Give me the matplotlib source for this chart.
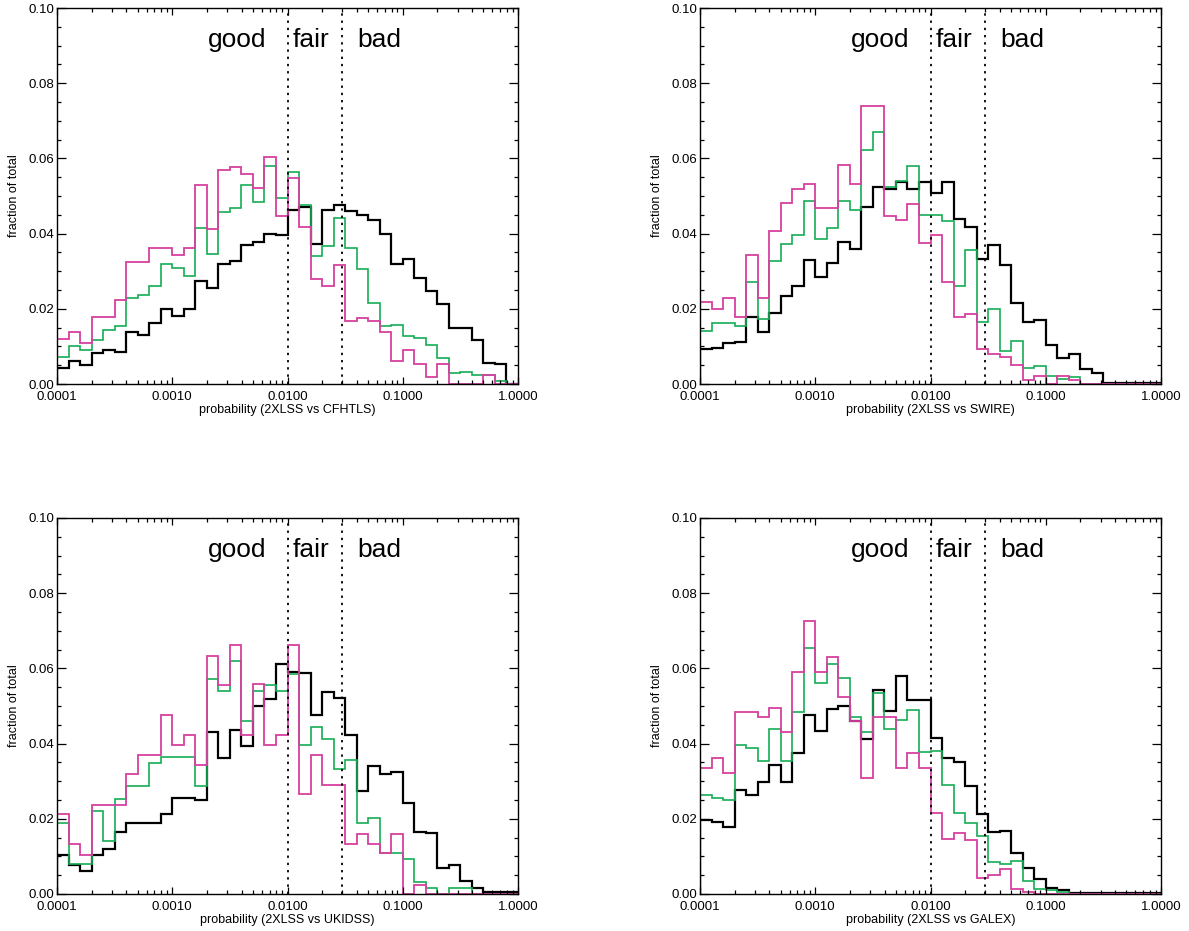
import numpy as np
import matplotlib
matplotlib.use("Agg")
import matplotlib.pyplot as plt
from matplotlib.ticker import FixedLocator, FixedFormatter, MultipleLocator

plt.rcParams['font.family'] = ['Liberation Sans', 'DejaVu Sans']

# 40 logarithmic bins, 10 per decade, from 1e-4 to 1
bin_edges = 10.0 ** (-4 + 0.1 * np.arange(41))

surveys = ["CFHTLS", "SWIRE", "UKIDSS", "GALEX"]

# ---- CFHTLS ----
cfhtls_black = [0.0042, 0.0062, 0.0051, 0.0082, 0.0091, 0.0084, 0.0139, 0.0131, 0.0161, 0.0200,
                0.0181, 0.0199, 0.0274, 0.0256, 0.0318, 0.0328, 0.0371, 0.0378, 0.0400, 0.0396,
                0.0464, 0.0471, 0.0373, 0.0462, 0.0477, 0.0460, 0.0450, 0.0435, 0.0398, 0.0319,
                0.0332, 0.0281, 0.0248, 0.0213, 0.0150, 0.0148, 0.0117, 0.0056, 0.0053, 0.0]
cfhtls_green = [0.0073, 0.0100, 0.0090, 0.0117, 0.0143, 0.0155, 0.0228, 0.0238, 0.0260, 0.0320,
                0.0309, 0.0287, 0.0415, 0.0346, 0.0458, 0.0468, 0.0528, 0.0485, 0.0581, 0.0495,
                0.0565, 0.0475, 0.0340, 0.0366, 0.0442, 0.0362, 0.0305, 0.0216, 0.0154, 0.0158,
                0.0127, 0.0122, 0.0104, 0.0069, 0.0029, 0.0033, 0.0024, 0.0024, 0.0007, 0.0]
cfhtls_magenta = [0.0119, 0.0139, 0.0110, 0.0177, 0.0177, 0.0223, 0.0325, 0.0325, 0.0362, 0.0362,
                  0.0344, 0.0362, 0.0530, 0.0411, 0.0568, 0.0576, 0.0559, 0.0521, 0.0605, 0.0446,
                  0.0547, 0.0418, 0.0278, 0.0260, 0.0316, 0.0168, 0.0175, 0.0168, 0.0138, 0.0062,
                  0.0091, 0.0053, 0.0018, 0.0053, 0.0, 0.0, 0.0, 0.0024, 0.0, 0.0]

# ---- SWIRE ----
swire_black = [0.0094, 0.0097, 0.0110, 0.0112, 0.0179, 0.0137, 0.0190, 0.0234, 0.0260, 0.0329,
               0.0284, 0.0322, 0.0377, 0.0359, 0.0470, 0.0525, 0.0518, 0.0538, 0.0518, 0.0538,
               0.0508, 0.0536, 0.0439, 0.0417, 0.0333, 0.0371, 0.0316, 0.0216, 0.0165, 0.0169,
               0.0104, 0.0070, 0.0081, 0.0041, 0.0029, 0.0003, 0.0002, 0.0002, 0.0002, 0.0002]
swire_green = [0.0141, 0.0161, 0.0161, 0.0155, 0.0272, 0.0172, 0.0327, 0.0373, 0.0397, 0.0486,
               0.0386, 0.0415, 0.0486, 0.0462, 0.0623, 0.0671, 0.0523, 0.0539, 0.0581, 0.0450,
               0.0450, 0.0434, 0.0260, 0.0356, 0.0165, 0.0200, 0.0089, 0.0114, 0.0042, 0.0048,
               0.0020, 0.0014, 0.0018, 0.0, 0.0, 0.0, 0.0, 0.0, 0.0, 0.0]
swire_magenta = [0.0219, 0.0199, 0.0229, 0.0177, 0.0343, 0.0228, 0.0406, 0.0481, 0.0518, 0.0532,
                 0.0468, 0.0468, 0.0583, 0.0532, 0.0739, 0.0739, 0.0446, 0.0437, 0.0479, 0.0374,
                 0.0395, 0.0271, 0.0177, 0.0187, 0.0093, 0.0080, 0.0073, 0.0051, 0.0011, 0.0020,
                 0.0, 0.0020, 0.0011, 0.0, 0.0, 0.0, 0.0, 0.0, 0.0, 0.0]

# ---- UKIDSS ----
ukidss_black = [0.0104, 0.0077, 0.0062, 0.0104, 0.0121, 0.0166, 0.0190, 0.0190, 0.0190, 0.0212,
                0.0256, 0.0256, 0.0249, 0.0430, 0.0362, 0.0437, 0.0393, 0.0499, 0.0519, 0.0611,
                0.0590, 0.0587, 0.0475, 0.0536, 0.0521, 0.0422, 0.0274, 0.0340, 0.0318, 0.0325,
                0.0241, 0.0165, 0.0162, 0.0069, 0.0077, 0.0035, 0.0016, 0.0006, 0.0004, 0.0004]
ukidss_green = [0.0190, 0.0079, 0.0079, 0.0221, 0.0141, 0.0253, 0.0287, 0.0287, 0.0349, 0.0365,
                0.0365, 0.0365, 0.0287, 0.0571, 0.0539, 0.0620, 0.0461, 0.0539, 0.0556, 0.0539,
                0.0585, 0.0397, 0.0444, 0.0412, 0.0333, 0.0356, 0.0190, 0.0203, 0.0110, 0.0110,
                0.0093, 0.0031, 0.0015, 0.0, 0.0015, 0.0015, 0.0, 0.0, 0.0, 0.0]
ukidss_magenta = [0.0212, 0.0132, 0.0104, 0.0238, 0.0238, 0.0238, 0.0318, 0.0371, 0.0371, 0.0477,
                  0.0397, 0.0424, 0.0343, 0.0634, 0.0556, 0.0662, 0.0422, 0.0558, 0.0397, 0.0424,
                  0.0662, 0.0265, 0.0371, 0.0291, 0.0291, 0.0132, 0.0159, 0.0132, 0.0110, 0.0159,
                  0.0, 0.0024, 0.0, 0.0, 0.0, 0.0, 0.0, 0.0, 0.0, 0.0]

# ---- GALEX ----
galex_black = [0.0197, 0.0192, 0.0178, 0.0276, 0.0263, 0.0298, 0.0342, 0.0298, 0.0375, 0.0477,
               0.0433, 0.0493, 0.0499, 0.0461, 0.0411, 0.0543, 0.0486, 0.0580, 0.0515, 0.0515,
               0.0415, 0.0362, 0.0350, 0.0287, 0.0214, 0.0165, 0.0168, 0.0110, 0.0068, 0.0040,
               0.0015, 0.0011, 0.0003, 0.0002, 0.0002, 0.0002, 0.0002, 0.0002, 0.0002, 0.0002]
galex_green = [0.0262, 0.0255, 0.0250, 0.0396, 0.0389, 0.0355, 0.0439, 0.0355, 0.0484, 0.0655,
               0.0561, 0.0612, 0.0574, 0.0472, 0.0430, 0.0534, 0.0439, 0.0464, 0.0490, 0.0377,
               0.0380, 0.0291, 0.0215, 0.0190, 0.0155, 0.0086, 0.0079, 0.0087, 0.0034, 0.0013,
               0.0011, 0.0004, 0.0, 0.0, 0.0, 0.0, 0.0, 0.0, 0.0, 0.0]
galex_magenta = [0.0336, 0.0362, 0.0322, 0.0483, 0.0483, 0.0470, 0.0496, 0.0430, 0.0590, 0.0726,
                 0.0590, 0.0631, 0.0524, 0.0459, 0.0309, 0.0470, 0.0470, 0.0336, 0.0375, 0.0336,
                 0.0215, 0.0146, 0.0162, 0.0143, 0.0042, 0.0051, 0.0066, 0.0013, 0.0004, 0.0,
                 0.0, 0.0, 0.0, 0.0, 0.0, 0.0, 0.0, 0.0, 0.0, 0.0]

black_series = [cfhtls_black, swire_black, ukidss_black, galex_black]
green_series = [cfhtls_green, swire_green, ukidss_green, galex_green]
magenta_series = [cfhtls_magenta, swire_magenta, ukidss_magenta, galex_magenta]

x_ticks = [0.0001, 0.001, 0.01, 0.1, 1.0]
x_tick_labels = ["0.0001", "0.0010", "0.0100", "0.1000", "1.0000"]
y_ticks = [0.0, 0.02, 0.04, 0.06, 0.08, 0.10]
y_tick_labels = ["0.00", "0.02", "0.04", "0.06", "0.08", "0.10"]
cuts = [0.01, 0.03]
zones = [("good", 0.00204), ("fair", 0.01114), ("bad", 0.040)]

W, H = 1189, 931
fig = plt.figure(figsize=(W / 100, H / 100), dpi=100)

# axes boxes in pixels: (left, top, right, bottom)
boxes = [(57, 8, 518, 384), (700, 8, 1161, 384),
         (57, 518, 518, 894), (700, 518, 1161, 894)]

c_black = "#000000"
c_green = "#16ad56"
c_magenta = "#d6409f"

for i, (l, t, r, b) in enumerate(boxes):
    ax = fig.add_axes([l / W, 1 - b / H, (r - l) / W, (b - t) / H])
    ax.stairs(black_series[i], bin_edges, color=c_black, lw=1.6, baseline=0)
    ax.stairs(green_series[i], bin_edges, color=c_green, lw=1.2, baseline=0)
    ax.stairs(magenta_series[i], bin_edges, color=c_magenta, lw=1.3, baseline=0)
    for c in cuts:
        ax.axvline(c, color="black", lw=1.3, linestyle=(0, (1.3, 2.7)))
    ax.set_xscale("log")
    ax.set_xlim(1e-4, 1.0)
    ax.set_ylim(0, 0.1)
    ax.xaxis.set_major_locator(FixedLocator(x_ticks))
    ax.xaxis.set_major_formatter(FixedFormatter(x_tick_labels))
    ax.yaxis.set_major_locator(FixedLocator(y_ticks))
    ax.yaxis.set_major_formatter(FixedFormatter(y_tick_labels))
    ax.yaxis.set_minor_locator(MultipleLocator(0.005))
    ax.tick_params(axis="both", which="both", direction="in", top=True, right=True,
                   labelsize=9.5, width=0.9, colors="black")
    ax.tick_params(axis="y", which="major", length=6.5, pad=2)
    ax.tick_params(axis="y", which="minor", length=3.2)
    ax.tick_params(axis="x", which="major", length=5, pad=5)
    ax.tick_params(axis="x", which="minor", length=2.6)
    for s in ax.spines.values():
        s.set_linewidth(1.0)
    ax.set_xlabel("probability (2XLSS vs %s)" % surveys[i], fontsize=9, labelpad=1)
    ax.set_ylabel("fraction of total", fontsize=9, labelpad=6)
    for txt, xpos in zones:
        ax.text(xpos, 0.0895, txt, fontsize=19, ha="left", va="baseline")

fig.savefig("out.png", dpi=100)
